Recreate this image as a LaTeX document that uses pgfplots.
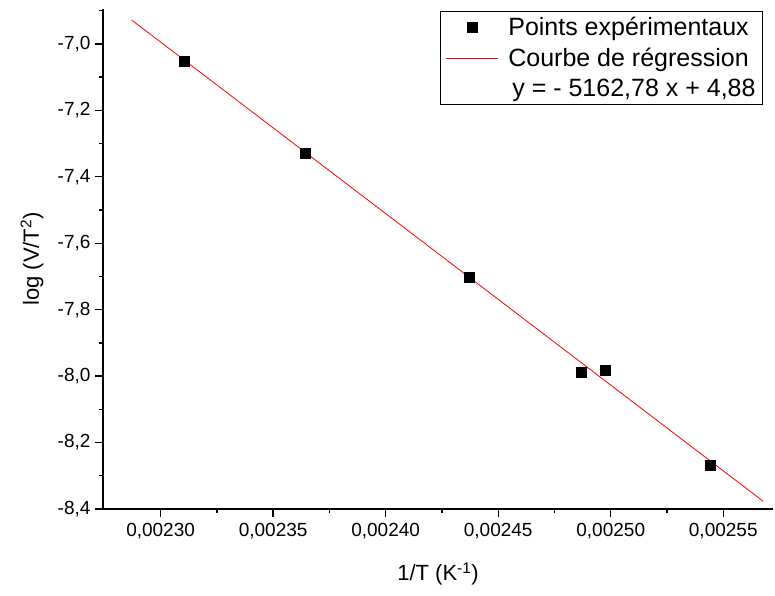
\documentclass[border=0pt]{standalone}
\usepackage{fontspec}
\setmainfont{Liberation Sans}
\usepackage{pgfplots}
\pgfplotsset{compat=1.18}

\begin{document}
\begin{tikzpicture}
\path[use as bounding box] (-103pt,-86pt) rectangle (672pt,509pt);
\begin{axis}[
  scale only axis, width=670pt, height=500pt,
  at={(0,0)}, anchor=south west,
  xmin=0.0022744, xmax=0.0025721, ymin=-8.4, ymax=-6.895,
  axis lines=left, axis line style={-, line width=1.6pt, black},
  scaled x ticks=false, scaled y ticks=false,
  xtick={0.0023,0.00235,0.0024,0.00245,0.0025,0.00255},
  xticklabels={{0,00230},{0,00235},{0,00240},{0,00245},{0,00250},{0,00255}},
  minor xtick={0.002325,0.002375,0.002425,0.002475,0.002525},
  ytick={-8.4,-8.2,-8.0,-7.8,-7.6,-7.4,-7.2,-7.0},
  yticklabels={{-8,4},{-8,2},{-8,0},{-7,8},{-7,6},{-7,4},{-7,2},{-7,0}},
  minor ytick={-8.3,-8.1,-7.9,-7.7,-7.5,-7.3,-7.1,-6.9},
  tick align=outside, major tick length=8pt, minor tick length=4pt,
  every tick/.style={line width=1.4pt, black},
  tick label style={font=\fontsize{19}{22}\selectfont},
  xticklabel style={yshift=-3pt},
  yticklabel style={xshift=-1pt},
  every axis x label/.style={at={(axis description cs:0.5,-0.13)}, anchor=center, font=\fontsize{22}{26}\selectfont},
  every axis y label/.style={at={(axis description cs:-0.106,0.5)}, rotate=90, anchor=center, font=\fontsize{22}{26}\selectfont},
  xlabel={1/T (K\textsuperscript{-1})},
  ylabel={log (V/T\textsuperscript{2})},
  clip=false,
  legend cell align=left,
  legend style={at={(axis description cs:0.985,0.996)}, anchor=north east,
    draw=black, line width=0.8pt, fill=white,
    font=\fontsize{25}{29}\selectfont,
    inner xsep=5pt, inner ysep=4pt, row sep=7pt,
    /tikz/every odd column/.append style={column sep=8pt}},
]
\addplot[only marks, mark=square*, mark size=5pt, black, fill=black,
  legend image code/.code={\path[fill=black] (21pt,-5pt) rectangle (31pt,5pt);}]
  coordinates {
  (0.0023105,-7.051)
  (0.0023643,-7.330)
  (0.0024370,-7.701)
  (0.0024869,-7.987)
  (0.0024976,-7.983)
  (0.0025442,-8.267)
};
\addlegendentry{Points expérimentaux}
\addplot[red, line width=0.8pt, no markers,
  legend image code/.code={\draw[red, line width=0.8pt] (0pt,0pt) -- (52pt,0pt);}]
  coordinates {
  (0.0022871,-6.928)
  (0.0025678,-8.377)
};
\addlegendentry{Courbe de régression}
\addlegendimage{empty legend}
\addlegendentry{\hspace{4pt}y = - 5162,78 x + 4,88}
\end{axis}
\end{tikzpicture}
\end{document}
